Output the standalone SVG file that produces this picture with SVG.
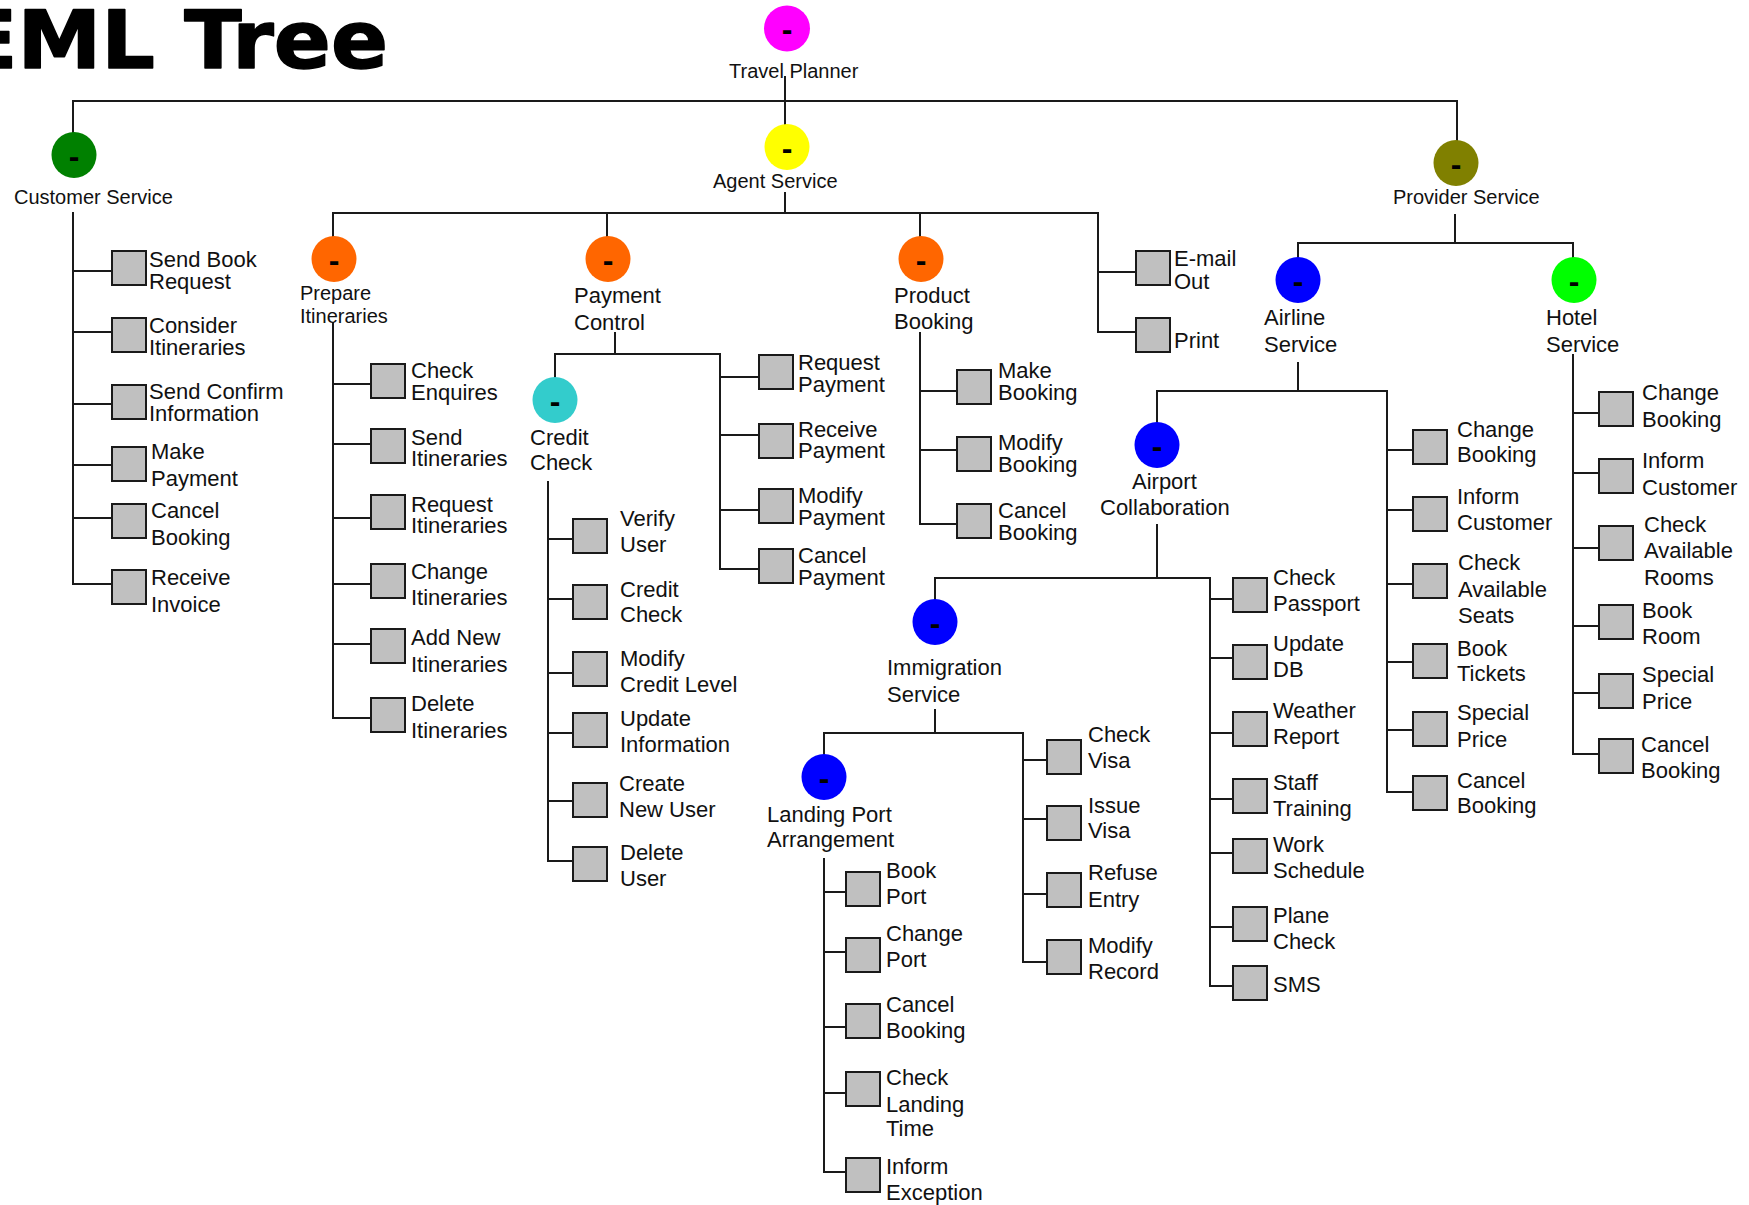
<svg xmlns="http://www.w3.org/2000/svg" width="1749" height="1205" viewBox="0 0 1749 1205">
  <style>
    .ln { fill: none; stroke: #1a1a1a; stroke-width: 2; stroke-linecap: square; }
    .box { fill: #c0c0c0; stroke: #1a1a1a; stroke-width: 2; }
    .lbl { font-family: "Liberation Sans", Arial, sans-serif; font-size: 22px; fill: #111; }
    .sm { font-size: 20px; }
    .dash { font-family: "Liberation Sans", Arial, sans-serif; font-weight: bold; font-size: 32px; fill: #000; text-anchor: middle; }
    .title { font-family: "DejaVu Sans", Verdana, sans-serif; font-weight: bold; font-size: 80px; fill: #000; stroke: #000; stroke-width: 1.5; stroke-linejoin: round; }
  </style>
  <rect width="1749" height="1205" fill="#fff"/>
  <text class="title" x="-40" y="68" textLength="428" lengthAdjust="spacingAndGlyphs">EML Tree</text>

  <!-- tree connectors -->
  <g id="connectors">
    <path class="ln" d="
      M785 77 V101 M73 132 V101 H1457 V140 M785 101 V124
      M73 213 V584 M73 271 H111 M73 332 H111 M73 404 H111 M73 465 H111 M73 518 H111 M73 584 H111
      M785 193 V213 M333 237 V213 H1098 V332 M607 213 V237 M920 213 V237 M1098 272 H1135 M1098 332 H1135
      M333 323 V718 M333 384 H370 M333 444 H370 M333 518 H370 M333 584 H370 M333 644 H370 M333 718 H370
      M615 333 V354 M555 377 V354 H720 V569 M720 377 H758 M720 435 H758 M720 510 H758 M720 569 H758
      M548 482 V861 M548 539 H572 M548 599 H572 M548 673 H572 M548 733 H572 M548 801 H572 M548 861 H572
      M920 333 V524 M920 391 H956 M920 450 H956 M920 524 H956
      M1455 215 V243 M1298 257 V243 H1573 V257
      M1298 363 V391 M1157 422 V391 H1387 V792 M1387 450 H1412 M1387 510 H1412 M1387 584 H1412 M1387 662 H1412 M1387 730 H1412 M1387 792 H1412
      M1573 355 V754 M1573 413 H1598 M1573 473 H1598 M1573 548 H1598 M1573 626 H1598 M1573 693 H1598 M1573 754 H1598
      M1157 525 V578 M935 600 V578 H1210 V986 M1210 599 H1232 M1210 658 H1232 M1210 733 H1232 M1210 799 H1232 M1210 853 H1232 M1210 927 H1232 M1210 986 H1232
      M935 710 V733 M824 755 V733 H1023 V962 M1023 760 H1046 M1023 819 H1046 M1023 894 H1046 M1023 962 H1046
      M824 859 V1172 M824 892 H845 M824 952 H845 M824 1027 H845 M824 1093 H845 M824 1172 H845"/>
  </g>

  <!-- branch nodes -->
  <g id="travel-planner">
    <ellipse cx="787" cy="28.5" rx="23" ry="23" fill="#ff00ff"/>
    <text class="dash" x="787" y="40">-</text>
    <text class="lbl sm" x="729" y="78">Travel Planner</text>
  </g>
  <g id="customer-service">
    <ellipse cx="74" cy="155" rx="22.5" ry="23" fill="#008000"/>
    <text class="dash" x="74" y="167">-</text>
    <text class="lbl sm" x="14" y="204">Customer Service</text>
  </g>
  <g id="agent-service">
    <ellipse cx="787" cy="147" rx="22.5" ry="23" fill="#ffff00"/>
    <text class="dash" x="787" y="159">-</text>
    <text class="lbl sm" x="713" y="188">Agent Service</text>
  </g>
  <g id="provider-service">
    <ellipse cx="1456" cy="163" rx="22.5" ry="23" fill="#808000"/>
    <text class="dash" x="1456" y="175">-</text>
    <text class="lbl sm" x="1393" y="204">Provider Service</text>
  </g>
  <g id="prepare-itineraries">
    <ellipse cx="334" cy="259" rx="22.5" ry="23" fill="#ff6600"/>
    <text class="dash" x="334" y="271">-</text>
    <text class="lbl sm" x="300" y="300">Prepare</text>
    <text class="lbl sm" x="300" y="323">Itineraries</text>
  </g>
  <g id="payment-control">
    <ellipse cx="608" cy="259" rx="22.5" ry="23" fill="#ff6600"/>
    <text class="dash" x="608" y="271">-</text>
    <text class="lbl" x="574" y="303">Payment</text>
    <text class="lbl" x="574" y="330">Control</text>
  </g>
  <g id="product-booking">
    <ellipse cx="921" cy="259" rx="22.5" ry="23" fill="#ff6600"/>
    <text class="dash" x="921" y="271">-</text>
    <text class="lbl" x="894" y="303">Product</text>
    <text class="lbl" x="894" y="329">Booking</text>
  </g>
  <g id="credit-check">
    <ellipse cx="555" cy="400" rx="22.5" ry="23" fill="#33cccc"/>
    <text class="dash" x="555" y="412">-</text>
    <text class="lbl" x="530" y="445">Credit</text>
    <text class="lbl" x="530" y="470">Check</text>
  </g>
  <g id="airline-service">
    <ellipse cx="1298" cy="280" rx="22.5" ry="23" fill="#0000ff"/>
    <text class="dash" x="1298" y="292">-</text>
    <text class="lbl" x="1264" y="325">Airline</text>
    <text class="lbl" x="1264" y="352">Service</text>
  </g>
  <g id="hotel-service">
    <ellipse cx="1574" cy="280" rx="22.5" ry="23" fill="#00ff00"/>
    <text class="dash" x="1574" y="292">-</text>
    <text class="lbl" x="1546" y="325">Hotel</text>
    <text class="lbl" x="1546" y="352">Service</text>
  </g>
  <g id="airport-collaboration">
    <ellipse cx="1157" cy="445" rx="22.5" ry="23" fill="#0000ff"/>
    <text class="dash" x="1157" y="457">-</text>
    <text class="lbl" x="1132" y="489">Airport</text>
    <text class="lbl" x="1100" y="515">Collaboration</text>
  </g>
  <g id="immigration-service">
    <ellipse cx="935" cy="622" rx="22.5" ry="23" fill="#0000ff"/>
    <text class="dash" x="935" y="634">-</text>
    <text class="lbl" x="887" y="675">Immigration</text>
    <text class="lbl" x="887" y="702">Service</text>
  </g>
  <g id="landing-port-arrangement">
    <ellipse cx="824" cy="777" rx="22.5" ry="23" fill="#0000ff"/>
    <text class="dash" x="824" y="789">-</text>
    <text class="lbl" x="767" y="822">Landing Port</text>
    <text class="lbl" x="767" y="847">Arrangement</text>
  </g>

  <!-- Customer Service tasks -->
  <g id="send-book-request"><rect class="box" x="112" y="251" width="34" height="34"/><text class="lbl" x="149" y="267">Send Book</text><text class="lbl" x="149" y="289">Request</text></g>
  <g id="consider-itineraries"><rect class="box" x="112" y="318" width="34" height="34"/><text class="lbl" x="149" y="333">Consider</text><text class="lbl" x="149" y="355">Itineraries</text></g>
  <g id="send-confirm-information"><rect class="box" x="112" y="385" width="34" height="34"/><text class="lbl" x="149" y="399">Send Confirm</text><text class="lbl" x="149" y="421">Information</text></g>
  <g id="make-payment"><rect class="box" x="112" y="447" width="34" height="34"/><text class="lbl" x="151" y="459">Make</text><text class="lbl" x="151" y="486">Payment</text></g>
  <g id="cs-cancel-booking"><rect class="box" x="112" y="504" width="34" height="34"/><text class="lbl" x="151" y="518">Cancel</text><text class="lbl" x="151" y="545">Booking</text></g>
  <g id="receive-invoice"><rect class="box" x="112" y="570" width="34" height="34"/><text class="lbl" x="151" y="585">Receive</text><text class="lbl" x="151" y="612">Invoice</text></g>

  <!-- Prepare Itineraries tasks -->
  <g id="check-enquires"><rect class="box" x="371" y="364" width="34" height="34"/><text class="lbl" x="411" y="378">Check</text><text class="lbl" x="411" y="400">Enquires</text></g>
  <g id="send-itineraries"><rect class="box" x="371" y="429" width="34" height="34"/><text class="lbl" x="411" y="445">Send</text><text class="lbl" x="411" y="466">Itineraries</text></g>
  <g id="request-itineraries"><rect class="box" x="371" y="495" width="34" height="34"/><text class="lbl" x="411" y="512">Request</text><text class="lbl" x="411" y="533">Itineraries</text></g>
  <g id="change-itineraries"><rect class="box" x="371" y="564" width="34" height="34"/><text class="lbl" x="411" y="579">Change</text><text class="lbl" x="411" y="605">Itineraries</text></g>
  <g id="add-new-itineraries"><rect class="box" x="371" y="629" width="34" height="34"/><text class="lbl" x="411" y="645">Add New</text><text class="lbl" x="411" y="672">Itineraries</text></g>
  <g id="delete-itineraries"><rect class="box" x="371" y="698" width="34" height="34"/><text class="lbl" x="411" y="711">Delete</text><text class="lbl" x="411" y="738">Itineraries</text></g>

  <!-- Payment Control tasks -->
  <g id="request-payment"><rect class="box" x="759" y="355" width="34" height="34"/><text class="lbl" x="798" y="370">Request</text><text class="lbl" x="798" y="392">Payment</text></g>
  <g id="receive-payment"><rect class="box" x="759" y="424" width="34" height="34"/><text class="lbl" x="798" y="437">Receive</text><text class="lbl" x="798" y="458">Payment</text></g>
  <g id="modify-payment"><rect class="box" x="759" y="489" width="34" height="34"/><text class="lbl" x="798" y="503">Modify</text><text class="lbl" x="798" y="525">Payment</text></g>
  <g id="cancel-payment"><rect class="box" x="759" y="549" width="34" height="34"/><text class="lbl" x="798" y="563">Cancel</text><text class="lbl" x="798" y="585">Payment</text></g>

  <!-- Credit Check tasks -->
  <g id="verify-user"><rect class="box" x="573" y="519" width="34" height="34"/><text class="lbl" x="620" y="526">Verify</text><text class="lbl" x="620" y="552">User</text></g>
  <g id="credit-check-task"><rect class="box" x="573" y="585" width="34" height="34"/><text class="lbl" x="620" y="597">Credit</text><text class="lbl" x="620" y="622">Check</text></g>
  <g id="modify-credit-level"><rect class="box" x="573" y="652" width="34" height="34"/><text class="lbl" x="620" y="666">Modify</text><text class="lbl" x="620" y="692">Credit Level</text></g>
  <g id="update-information"><rect class="box" x="573" y="713" width="34" height="34"/><text class="lbl" x="620" y="726">Update</text><text class="lbl" x="620" y="752">Information</text></g>
  <g id="create-new-user"><rect class="box" x="573" y="783" width="34" height="34"/><text class="lbl" x="619" y="791">Create</text><text class="lbl" x="619" y="817">New User</text></g>
  <g id="delete-user"><rect class="box" x="573" y="847" width="34" height="34"/><text class="lbl" x="620" y="860">Delete</text><text class="lbl" x="620" y="886">User</text></g>

  <!-- Product Booking tasks -->
  <g id="make-booking"><rect class="box" x="957" y="370" width="34" height="34"/><text class="lbl" x="998" y="378">Make</text><text class="lbl" x="998" y="400">Booking</text></g>
  <g id="modify-booking"><rect class="box" x="957" y="437" width="34" height="34"/><text class="lbl" x="998" y="450">Modify</text><text class="lbl" x="998" y="472">Booking</text></g>
  <g id="pb-cancel-booking"><rect class="box" x="957" y="504" width="34" height="34"/><text class="lbl" x="998" y="518">Cancel</text><text class="lbl" x="998" y="540">Booking</text></g>

  <!-- Agent Service tasks -->
  <g id="email-out"><rect class="box" x="1136" y="251" width="34" height="34"/><text class="lbl" x="1174" y="266">E-mail</text><text class="lbl" x="1174" y="289">Out</text></g>
  <g id="print"><rect class="box" x="1136" y="318" width="34" height="34"/><text class="lbl" x="1174" y="348">Print</text></g>

  <!-- Airline Service tasks -->
  <g id="al-change-booking"><rect class="box" x="1413" y="430" width="34" height="34"/><text class="lbl" x="1457" y="437">Change</text><text class="lbl" x="1457" y="462">Booking</text></g>
  <g id="al-inform-customer"><rect class="box" x="1413" y="497" width="34" height="34"/><text class="lbl" x="1457" y="504">Inform</text><text class="lbl" x="1457" y="530">Customer</text></g>
  <g id="check-available-seats"><rect class="box" x="1413" y="564" width="34" height="34"/><text class="lbl" x="1458" y="570">Check</text><text class="lbl" x="1458" y="597">Available</text><text class="lbl" x="1458" y="623">Seats</text></g>
  <g id="book-tickets"><rect class="box" x="1413" y="644" width="34" height="34"/><text class="lbl" x="1457" y="656">Book</text><text class="lbl" x="1457" y="681">Tickets</text></g>
  <g id="al-special-price"><rect class="box" x="1413" y="712" width="34" height="34"/><text class="lbl" x="1457" y="720">Special</text><text class="lbl" x="1457" y="747">Price</text></g>
  <g id="al-cancel-booking"><rect class="box" x="1413" y="776" width="34" height="34"/><text class="lbl" x="1457" y="788">Cancel</text><text class="lbl" x="1457" y="813">Booking</text></g>

  <!-- Hotel Service tasks -->
  <g id="ht-change-booking"><rect class="box" x="1599" y="392" width="34" height="34"/><text class="lbl" x="1642" y="400">Change</text><text class="lbl" x="1642" y="427">Booking</text></g>
  <g id="ht-inform-customer"><rect class="box" x="1599" y="459" width="34" height="34"/><text class="lbl" x="1642" y="468">Inform</text><text class="lbl" x="1642" y="495">Customer</text></g>
  <g id="check-available-rooms"><rect class="box" x="1599" y="526" width="34" height="34"/><text class="lbl" x="1644" y="532">Check</text><text class="lbl" x="1644" y="558">Available</text><text class="lbl" x="1644" y="585">Rooms</text></g>
  <g id="book-room"><rect class="box" x="1599" y="605" width="34" height="34"/><text class="lbl" x="1642" y="618">Book</text><text class="lbl" x="1642" y="644">Room</text></g>
  <g id="ht-special-price"><rect class="box" x="1599" y="674" width="34" height="34"/><text class="lbl" x="1642" y="682">Special</text><text class="lbl" x="1642" y="709">Price</text></g>
  <g id="ht-cancel-booking"><rect class="box" x="1599" y="739" width="34" height="34"/><text class="lbl" x="1641" y="752">Cancel</text><text class="lbl" x="1641" y="778">Booking</text></g>

  <!-- Airport Collaboration tasks -->
  <g id="check-passport"><rect class="box" x="1233" y="578" width="34" height="34"/><text class="lbl" x="1273" y="585">Check</text><text class="lbl" x="1273" y="611">Passport</text></g>
  <g id="update-db"><rect class="box" x="1233" y="645" width="34" height="34"/><text class="lbl" x="1273" y="651">Update</text><text class="lbl" x="1273" y="677">DB</text></g>
  <g id="weather-report"><rect class="box" x="1233" y="712" width="34" height="34"/><text class="lbl" x="1273" y="718">Weather</text><text class="lbl" x="1273" y="744">Report</text></g>
  <g id="staff-training"><rect class="box" x="1233" y="779" width="34" height="34"/><text class="lbl" x="1273" y="790">Staff</text><text class="lbl" x="1273" y="816">Training</text></g>
  <g id="work-schedule"><rect class="box" x="1233" y="839" width="34" height="34"/><text class="lbl" x="1273" y="852">Work</text><text class="lbl" x="1273" y="878">Schedule</text></g>
  <g id="plane-check"><rect class="box" x="1233" y="907" width="34" height="34"/><text class="lbl" x="1273" y="923">Plane</text><text class="lbl" x="1273" y="949">Check</text></g>
  <g id="sms"><rect class="box" x="1233" y="966" width="34" height="34"/><text class="lbl" x="1273" y="992">SMS</text></g>

  <!-- Immigration Service tasks -->
  <g id="check-visa"><rect class="box" x="1047" y="740" width="34" height="34"/><text class="lbl" x="1088" y="742">Check</text><text class="lbl" x="1088" y="768">Visa</text></g>
  <g id="issue-visa"><rect class="box" x="1047" y="806" width="34" height="34"/><text class="lbl" x="1088" y="813">Issue</text><text class="lbl" x="1088" y="838">Visa</text></g>
  <g id="refuse-entry"><rect class="box" x="1047" y="873" width="34" height="34"/><text class="lbl" x="1088" y="880">Refuse</text><text class="lbl" x="1088" y="907">Entry</text></g>
  <g id="modify-record"><rect class="box" x="1047" y="940" width="34" height="34"/><text class="lbl" x="1088" y="953">Modify</text><text class="lbl" x="1088" y="979">Record</text></g>

  <!-- Landing Port Arrangement tasks -->
  <g id="book-port"><rect class="box" x="846" y="872" width="34" height="34"/><text class="lbl" x="886" y="878">Book</text><text class="lbl" x="886" y="904">Port</text></g>
  <g id="change-port"><rect class="box" x="846" y="938" width="34" height="34"/><text class="lbl" x="886" y="941">Change</text><text class="lbl" x="886" y="967">Port</text></g>
  <g id="lp-cancel-booking"><rect class="box" x="846" y="1004" width="34" height="34"/><text class="lbl" x="886" y="1012">Cancel</text><text class="lbl" x="886" y="1038">Booking</text></g>
  <g id="check-landing-time"><rect class="box" x="846" y="1072" width="34" height="34"/><text class="lbl" x="886" y="1085">Check</text><text class="lbl" x="886" y="1112">Landing</text><text class="lbl" x="886" y="1136">Time</text></g>
  <g id="inform-exception"><rect class="box" x="846" y="1158" width="34" height="34"/><text class="lbl" x="886" y="1174">Inform</text><text class="lbl" x="886" y="1200">Exception</text></g>
</svg>
